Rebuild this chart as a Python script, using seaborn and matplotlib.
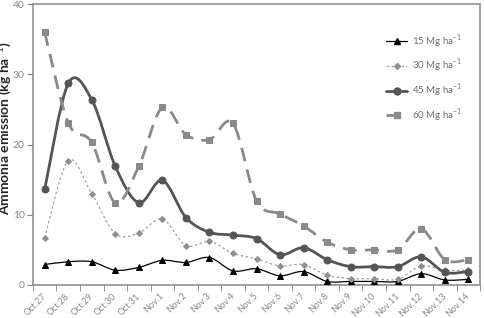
import matplotlib
matplotlib.use("Agg")
import matplotlib.pyplot as plt
from matplotlib.path import Path
from matplotlib.patches import PathPatch
from matplotlib.lines import Line2D
import seaborn as sns
import pandas as pd
import numpy as np

dates = ["Oct.27", "Oct.28", "Oct.29", "Oct.30", "Oct.31", "Nov.1", "Nov.2", "Nov.3",
         "Nov.4", "Nov.5", "Nov.6", "Nov.7", "Nov.8", "Nov.9", "Nov.10", "Nov.11",
         "Nov.12", "Nov.13", "Nov.14"]

mg15 = [2.9, 3.3, 3.3, 2.1, 2.5, 3.5, 3.2, 3.9, 2.0, 2.3, 1.3, 1.9, 0.5, 0.5, 0.5, 0.5, 1.6, 0.7, 0.8]
mg30 = [6.7, 17.7, 13.0, 7.3, 7.4, 9.4, 5.6, 6.2, 4.5, 3.7, 2.7, 2.9, 1.4, 0.9, 0.9, 0.8, 2.7, 2.1, 2.1]
mg45 = [13.6, 28.7, 26.4, 16.9, 11.7, 14.9, 9.6, 7.5, 7.1, 6.6, 4.3, 5.3, 3.6, 2.6, 2.6, 2.6, 4.0, 1.8, 1.9]
mg60 = [36.0, 23.1, 20.3, 11.7, 16.9, 25.3, 21.4, 20.7, 23.0, 12.0, 10.1, 8.4, 6.1, 5.0, 5.0, 5.0, 8.0, 3.6, 3.6]

labels = ["15 Mg ha$^{-1}$", "30 Mg ha$^{-1}$", "45 Mg ha$^{-1}$", "60 Mg ha$^{-1}$"]


def smooth_path(xs, ys):
    # Excel-style smoothed line: cubic Bezier segments through each point
    pts = np.column_stack([xs, ys]).astype(float)
    n = len(pts)
    verts = [pts[0]]
    codes = [Path.MOVETO]
    for i in range(n - 1):
        p0 = pts[i - 1] if i > 0 else pts[i]
        p1 = pts[i]
        p2 = pts[i + 1]
        p3 = pts[i + 2] if i + 2 < n else pts[i + 1]
        c1 = p1 + (p2 - p0) / 6.0
        c2 = p2 - (p3 - p1) / 6.0
        verts += [c1, c2, p2]
        codes += [Path.CURVE4] * 3
    return Path(verts, codes)


sns.set_style("white")
plt.rcParams["font.family"] = ["Lato", "DejaVu Sans"]
plt.rcParams["mathtext.fontset"] = "custom"
plt.rcParams["mathtext.rm"] = "Lato"
plt.rcParams["mathtext.bf"] = "Lato:bold"

fig = plt.figure(figsize=(4.84, 3.18), dpi=100)
ax = fig.add_axes([0.068, 0.104, 0.924, 0.883])

x = np.arange(len(dates))
series = [
    (mg15, "black", 0.9, "-", "^", 5, "black"),
    (mg30, "#a0a0a0", 0.9, (0, (2, 2)), "D", 3, "#909090"),
    (mg45, "#555555", 2.0, "-", "o", 5, "#555555"),
    (mg60, "#8a8a8a", 2.0, (0, (5, 3)), "s", 5, "#8a8a8a"),
]

handles = []
for (vals, col, lw, ls, mk, ms, mcol), lab in zip(series, labels):
    ax.add_patch(PathPatch(smooth_path(x, vals), facecolor="none", edgecolor=col,
                           lw=lw, linestyle=ls, transform=ax.transData, zorder=2))
    df = pd.DataFrame({"x": x, "y": vals})
    sns.lineplot(data=df, x="x", y="y", ax=ax, linestyle="", marker=mk,
                 markersize=ms, color=mcol, markeredgecolor=mcol, zorder=3)
    handles.append(Line2D([], [], color=col, lw=lw, linestyle=ls, marker=mk,
                          markersize=ms, markerfacecolor=mcol, markeredgecolor=mcol))

ax.set_xlim(-0.5, len(dates) - 0.5)
ax.set_ylim(0, 40)
ax.set_yticks([0, 10, 20, 30, 40])
ax.set_xticks(x)
ax.set_xticklabels(dates, rotation=45, ha="right", va="center", rotation_mode="anchor")
ax.set_xticks(np.arange(-0.5, len(dates)), minor=True)
ax.tick_params(axis="x", which="major", length=0, pad=7, labelsize=6.5, labelcolor="#8a8a8a")
ax.tick_params(axis="x", which="minor", length=4, color="#808080", direction="out", bottom=True)
ax.tick_params(axis="y", length=4, color="#808080", direction="out", left=True, pad=2,
               labelsize=7.5, labelcolor="#8a8a8a")
ax.set_xlabel("")
ax.set_ylabel("Ammonia emission (kg ha$^{-1}$)", fontsize=10, fontweight="bold")
ax.yaxis.set_label_coords(-0.045, 0.56)

for sp in ax.spines.values():
    sp.set_color("#909090")
    sp.set_linewidth(1.2)

leg = ax.legend(handles, labels, loc="upper left", bbox_to_anchor=(0.77, 0.93),
                frameon=False, fontsize=7, handlelength=2.2, labelspacing=0.75,
                handletextpad=0.5)
for t in leg.get_texts():
    t.set_color("#707070")

fig.savefig("out.png", dpi=100)
